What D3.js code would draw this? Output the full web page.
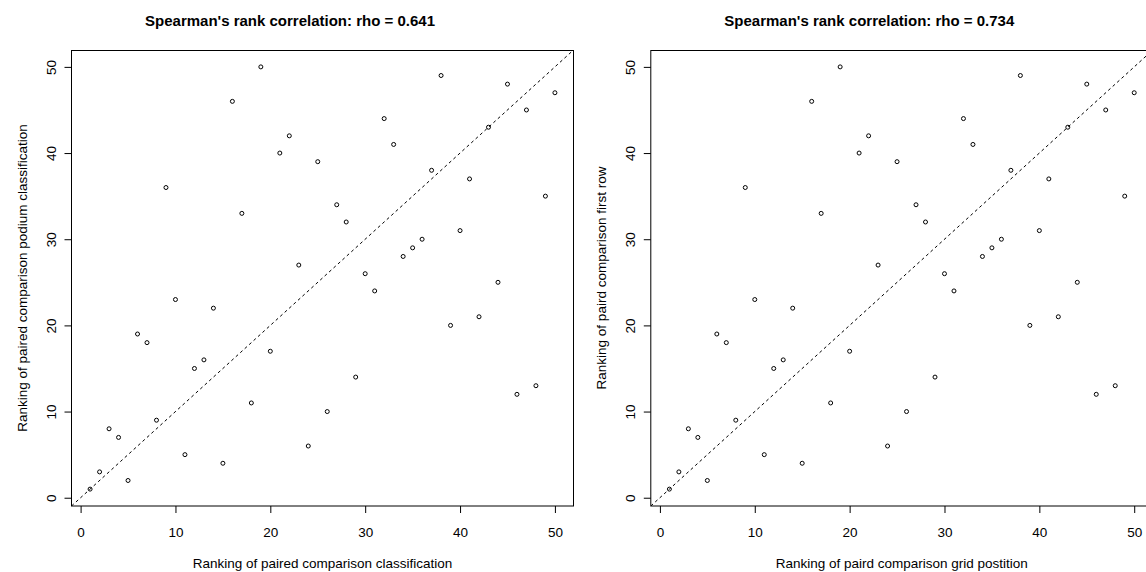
<!DOCTYPE html>
<html><head><meta charset="utf-8">
<script src="https://cdn.jsdelivr.net/npm/d3@7"></script>
<style>
body{margin:0;background:#fff}
text{font-family:Arial,"Liberation Sans",sans-serif;fill:#000}
</style>
</head><body>
<svg id="c" width="1146" height="572"></svg>
<script>
// Data (identical rank pairs in both panels)
const rankX = [1,2,3,4,5,6,7,8,9,10,11,12,13,14,15,16,17,18,19,20,21,22,23,24,25,26,27,28,29,30,31,32,33,34,35,36,37,38,39,40,41,42,43,44,45,46,47,48,49,50];
const rankYPodium = [1,3,8,7,2,19,18,9,36,23,5,15,16,22,4,46,33,11,50,17,40,42,27,6,39,10,34,32,14,26,24,44,41,28,29,30,38,49,20,31,37,21,43,25,48,12,45,13,35,47];
const rankYFirstRow = [1,3,8,7,2,19,18,9,36,23,5,15,16,22,4,46,33,11,50,17,40,42,27,6,39,10,34,32,14,26,24,44,41,28,29,30,38,49,20,31,37,21,43,25,48,12,45,13,35,47];
const titles = ["Spearman's rank correlation: rho = 0.641", "Spearman's rank correlation: rho = 0.734"];
const xLabels = ["Ranking of paired comparison classification", "Ranking of paird comparison grid postition"];
const yLabels = ["Ranking of paired comparison podium classification", "Ranking of paird comparison first row"];
const tickValues = [0,10,20,30,40,50];

const svg = d3.select("#c");
const panels = [
  {off: 0, ys: rankYPodium},
  {off: 579.3, ys: rankYFirstRow}
];
const dom = [-0.96, 51.96];
const FS = "13.5px";

panels.forEach((p, i) => {
  const g = svg.append("g");
  const x = d3.scaleLinear().domain(dom).range([71.5 + p.off, 573.5 + p.off]);
  const y = d3.scaleLinear().domain(dom).range([506, 50]);
  const clipId = "clip" + i;
  svg.append("clipPath").attr("id", clipId).append("rect")
    .attr("x", x.range()[0]).attr("y", 50).attr("width", x.range()[1]-x.range()[0]).attr("height", 456);

  // dashed y = x line
  g.append("line")
    .attr("clip-path", `url(#${clipId})`)
    .attr("x1", x(dom[0])).attr("y1", y(dom[0]))
    .attr("x2", x(dom[1])).attr("y2", y(dom[1]))
    .attr("stroke", "#000").attr("stroke-width", 1).attr("stroke-dasharray", "3,3");

  // points
  g.selectAll("circle.pt").data(rankX.map((v, k) => [v, p.ys[k]])).enter()
    .append("circle").attr("class", "pt")
    .attr("cx", d => x(d[0])).attr("cy", d => y(d[1])).attr("r", 2)
    .attr("fill", "none").attr("stroke", "#000").attr("stroke-width", 1);

  // box
  g.append("rect")
    .attr("x", x.range()[0]).attr("y", 50.5)
    .attr("width", x.range()[1]-x.range()[0]).attr("height", 455.5)
    .attr("fill", "none").attr("stroke", "#000").attr("stroke-width", 1);

  // x axis
  const xa = g.append("g").attr("transform", "translate(0,506)")
    .call(d3.axisBottom(x).tickValues(tickValues).tickSize(7).tickPadding(14).tickFormat(d3.format("d")));
  xa.select(".domain").remove();
  xa.selectAll("text").style("font-size", FS).attr("font-family", null);

  // y axis
  const ya = g.append("g").attr("transform", `translate(${x.range()[0]},0)`)
    .call(d3.axisLeft(y).tickValues(tickValues).tickSize(7).tickFormat(d3.format("d")));
  ya.select(".domain").remove();
  ya.selectAll("text").style("font-size", FS).attr("font-family", null)
    .attr("x", 0).attr("y", -16).attr("dy", 0)
    .attr("transform", "rotate(-90)").attr("text-anchor", "middle");

  // labels
  g.append("text").attr("x", (x.range()[0]+x.range()[1])/2).attr("y", 568)
    .attr("text-anchor", "middle").style("font-size", FS).text(xLabels[i]);
  g.append("text").attr("transform", `translate(${27 + p.off},278) rotate(-90)`)
    .attr("text-anchor", "middle").style("font-size", FS).text(yLabels[i]);
  g.append("text").attr("x", 290 + p.off).attr("y", 26)
    .attr("text-anchor", "middle").style("font-size", "15px").style("font-weight", "bold").text(titles[i]);
});
</script>
</body></html>
